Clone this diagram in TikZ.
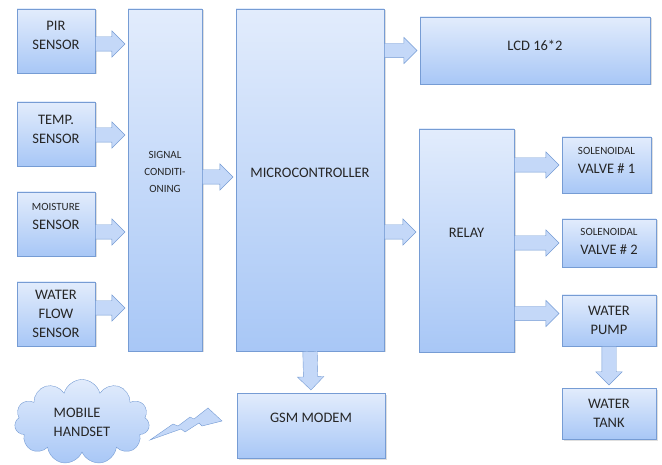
\documentclass[tikz,border=0pt]{standalone}
\usepackage{fontspec}
\setmainfont{Carlito}
\usetikzlibrary{calc,shapes.arrows,shapes.symbols,shadows}
\definecolor{boxtop}{RGB}{226,236,252}
\definecolor{boxmid}{RGB}{210,226,250}
\definecolor{boxbot}{RGB}{168,199,246}
\definecolor{boxline}{RGB}{118,156,212}
\definecolor{arrowfill}{RGB}{196,216,248}
\definecolor{textgrey}{RGB}{38,38,38}
\newcommand{\smalltxt}[1]{{\fontsize{11}{17}\selectfont #1}}

\begin{document}
\begin{tikzpicture}[x=1pt,y=-1pt,
    blk/.style={draw=boxline, top color=boxtop, middle color=boxmid, bottom color=boxbot,
        text=textgrey, align=center, inner sep=2pt,
        drop shadow={shadow xshift=1.5pt, shadow yshift=-1.5pt, opacity=0.25}},
    sz/.style 2 args={minimum width=#1, minimum height=#2},
    big/.style={font=\fontsize{14.5}{19}\selectfont},
    small/.style={font=\fontsize{11}{17}\selectfont},
    raisetext/.style={text depth=#1},
    fatarrow/.style={single arrow, draw=boxline, fill=arrowfill, inner xsep=0pt, inner ysep=7pt,
        minimum width=26pt, single arrow head extend=6pt, single arrow tip angle=90},
    fat/.style={to path={let \p1=(\tikztostart), \p2=(\tikztotarget),
        \n1={atan2(\y2-\y1,\x2-\x1)}, \n2={veclen(\x2-\x1,\y2-\y1)-3} in
        node[fatarrow, minimum height=\n2, rotate=\n1, anchor=tail] at (\p1) {}}}]
    \useasboundingbox (0,0) rectangle (662,465);
    % sensors
    \node[blk, big, sz={78}{64}, raisetext=12pt] (pir) at (56,41) {PIR\\SENSOR};
    \node[blk, big, sz={78}{64}, raisetext=10pt] (temp) at (56,134) {TEMP.\\SENSOR};
    \node[blk, big, sz={78}{64}, raisetext=15pt] (moist) at (56,224) {\smalltxt{MOISTURE}\\SENSOR};
    \node[blk, big, sz={78}{64}] (flow) at (56,314) {WATER\\FLOW\\SENSOR};
    % main blocks
    \node[blk, small, sz={74}{342}, raisetext=16pt] (sc) at (165,180) {SIGNAL\\CONDITI-\\ONING};
    \node[blk, big, sz={148}{342}, raisetext=14pt] (mc) at (310,180) {MICROCONTROLLER};
    \node[blk, big, sz={230}{67}, raisetext=11pt] (lcd) at (535,50.5) {LCD 16*2};
    \node[blk, big, sz={95}{223}, raisetext=15pt] (relay) at (466.5,240.5) {RELAY};
    \node[blk, big, sz={148}{65}, raisetext=15pt] (gsm) at (311,425.5) {GSM MODEM};
    % outputs
    \node[blk, big, sz={89}{56}, raisetext=10pt] (v1) at (606.5,165) {\smalltxt{SOLENOIDAL}\\VALVE \# 1};
    \node[blk, big, sz={94}{48}, raisetext=4pt] (v2) at (609,243) {\smalltxt{SOLENOIDAL}\\VALVE \# 2};
    \node[blk, big, sz={94}{51}] (pump) at (609,320.5) {WATER\\PUMP};
    \node[blk, big, sz={94}{51}] (tank) at (609,413.5) {WATER\\TANK};
    % mobile handset
    \node[cloud, cloud puffs=11, aspect=1.6, draw=boxline, top color=boxtop, bottom color=boxbot,
        text=textgrey, align=left, big, inner sep=1pt, minimum width=135, minimum height=85] (phone) at (82,422) {MOBILE\\HANDSET};
    \filldraw[fill=arrowfill, draw=boxline] (150,440) -- (173,424) -- (178,426) -- (190,417) -- (194,419)
        -- (208,408) -- (222,421) -- (202,426) -- (199,423) -- (185,432) -- (181,429) -- cycle;
    % block arrows
    \foreach \s/\d in {pir/3,temp/1,moist/8,flow/-6} {
        \coordinate (\s-o) at ($(\s.east)+(0,\d)$);
        \path (\s-o) to[fat] (sc.west |- \s-o);
    }
    \coordinate (sc-o) at ($(sc.east)+(0,-3)$);
    \path (sc-o) to[fat] (mc.west |- sc-o);
    \path (mc.east |- lcd.west) to[fat] (lcd.west);
    \coordinate (mc-o) at ($(mc.east)+(0,52)$);
    \path (mc-o) to[fat] (relay.west |- mc-o);
    \foreach \t/\d in {v1/0,v2/0,pump/-7} {
        \coordinate (\t-i) at ($(\t.west)+(0,\d)$);
        \path (relay.east |- \t-i) to[fat] (\t-i);
    }
    \path (mc.south) to[fat] (gsm.north);
    \path (pump.south) to[fat] (tank.north);
\end{tikzpicture}
\end{document}
